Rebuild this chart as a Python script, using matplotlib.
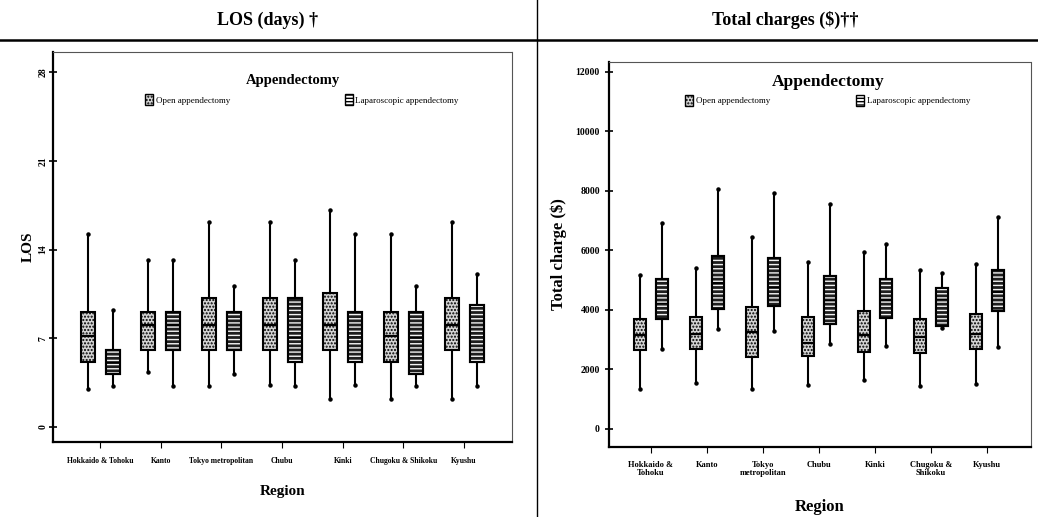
import matplotlib
matplotlib.use("Agg")
import matplotlib.pyplot as plt
from matplotlib.patches import Patch, PathPatch
from matplotlib.lines import Line2D

plt.rcParams['font.family'] = ['Liberation Serif', 'DejaVu Serif']
plt.rcParams['hatch.linewidth'] = 1.0

regions_left = ["Hokkaido & Tohoku", "Kanto", "Tokyo metropolitan", "Chubu",
                "Kinki", "Chugoku & Shikoku", "Kyushu"]
regions_right = ["Hokkaido &\nTohoku", "Kanto", "Tokyo\nmetropolitan", "Chubu",
                 "Kinki", "Chugoku &\nShikoku", "Kyushu"]

# LOS (days): whisker low, Q1, median, Q3, whisker high
los_open_lo = [3, 4.3, 3.2, 3.3, 2.2, 2.2, 2.2]
los_open_q1 = [5.1, 6.1, 6.1, 6.1, 6.1, 5.1, 6.1]
los_open_med = [7.2, 8, 8, 8, 8, 7.2, 8]
los_open_q3 = [9.1, 9.1, 10.2, 10.2, 10.6, 9.1, 10.2]
los_open_hi = [15.2, 13.2, 16.2, 16.2, 17.1, 15.2, 16.2]

los_lap_lo = [3.2, 3.2, 4.2, 3.2, 3.3, 3.2, 3.2]
los_lap_q1 = [4.2, 6.1, 6.1, 5.1, 5.1, 4.2, 5.1]
los_lap_med = [5.0, 8, 7.9, 7.0, 7.2, 7.0, 7.2]
los_lap_q3 = [6.1, 9.1, 9.1, 10.2, 9.1, 9.1, 9.6]
los_lap_hi = [9.2, 13.2, 11.1, 13.2, 15.2, 11.1, 12.1]

# Total charge ($)
tc_open_lo = [1350, 1540, 1350, 1480, 1650, 1450, 1500]
tc_open_q1 = [2660, 2690, 2430, 2470, 2600, 2570, 2680]
tc_open_med = [3160, 3190, 3250, 2900, 3170, 3100, 3180]
tc_open_q3 = [3700, 3750, 4090, 3780, 3970, 3700, 3850]
tc_open_hi = [5180, 5400, 6470, 5600, 5960, 5350, 5540]

tc_lap_lo = [2690, 3350, 3290, 2860, 2800, 3380, 2750]
tc_lap_q1 = [3690, 4020, 4150, 3530, 3720, 3470, 3980]
tc_lap_med = [4220, 4900, 4780, 4300, 4340, 4360, 4620]
tc_lap_q3 = [5040, 5820, 5740, 5140, 5030, 4750, 5350]
tc_lap_hi = [6910, 8070, 7940, 7550, 6220, 5230, 7140]

los_ticks = [0, 7, 14, 21, 28]
tc_ticks = [0, 2000, 4000, 6000, 8000, 10000, 12000]
series_names = ["Open appendectomy", "Laparoscopic appendectomy"]

fig = plt.figure(figsize=(10.38, 5.17), dpi=100)

def stats(lo, q1, med, q3, hi):
    return [dict(whislo=a, q1=b, med=c, q3=d, whishi=e, fliers=[])
            for a, b, c, d, e in zip(lo, q1, med, q3, hi)]

open_style = dict(facecolor='#d4d4d4', edgecolor='black', hatch='.....', linewidth=1.5)
lap_style = dict(facecolor='#1e1e1e', edgecolor='black', linewidth=1.5)

def draw_panel(ax, so, sl, offset, width):
    n = len(so)
    pos = list(range(1, n + 1))
    for st, style, off, striped in ((so, open_style, -offset, False),
                                    (sl, lap_style, offset, True)):
        p = [x + off for x in pos]
        bp = ax.bxp(st, positions=p, widths=width, showcaps=False, showfliers=False,
                    patch_artist=True, boxprops=style,
                    whiskerprops=dict(color='black', linewidth=1.5),
                    medianprops=dict(color='black', linewidth=1.6))
        if striped:
            for b in bp['boxes']:
                path = b.get_path()
                tr = b.get_transform()
                ax.add_patch(PathPatch(path, transform=tr, facecolor='none',
                                       edgecolor='#f2f2f2', hatch='----', linewidth=0,
                                       zorder=b.get_zorder() + 0.1))
                ax.add_patch(PathPatch(path, transform=tr, facecolor='none',
                                       edgecolor='black', linewidth=1.5,
                                       zorder=b.get_zorder() + 0.2))
        ax.plot(p, [s['whislo'] for s in st], 'o', color='black', ms=2.2)
        ax.plot(p, [s['whishi'] for s in st], 'o', color='black', ms=2.2)
    for side in ('left', 'bottom'):
        ax.spines[side].set_linewidth(1.6)
    for side in ('top', 'right'):
        ax.spines[side].set_linewidth(0.8)
        ax.spines[side].set_linestyle((0, (1, 1)))
        ax.spines[side].set_color('#555555')
    ax.tick_params(axis='y', direction='inout', length=6, width=1.2)
    ax.tick_params(axis='x', direction='out', length=4, width=0.8)

def add_legend(ax, x_open, x_lap, y):
    h1 = Patch(facecolor='#d4d4d4', edgecolor='black', hatch='.....', linewidth=1.0)
    h2 = Patch(facecolor='white', edgecolor='black', hatch='-----', linewidth=1.0)
    l1 = ax.legend([h1], [series_names[0]], loc='center left', bbox_to_anchor=(x_open, y),
                   frameon=False, fontsize=6.5, handlelength=0.9, handleheight=1.5,
                   handletextpad=0.3, borderpad=0, borderaxespad=0)
    ax.add_artist(l1)
    ax.legend([h2], [series_names[1]], loc='center left', bbox_to_anchor=(x_lap, y),
              frameon=False, fontsize=6.5, handlelength=0.9, handleheight=1.5,
              handletextpad=0.3, borderpad=0, borderaxespad=0)

# Left panel
ax1 = fig.add_axes([0.0511, 0.1451, 0.4422, 0.7544])
draw_panel(ax1, stats(los_open_lo, los_open_q1, los_open_med, los_open_q3, los_open_hi),
           stats(los_lap_lo, los_lap_q1, los_lap_med, los_lap_q3, los_lap_hi), 0.206, 0.23)
ax1.set_xlim(0.225, 7.79)
ax1.set_ylim(-1.2, 29.6)
ax1.set_yticks(los_ticks)
ax1.set_yticklabels([str(t) for t in los_ticks], rotation=90, va='center',
                    fontsize=7, fontweight='bold')
ax1.tick_params(axis='y', pad=1)
ax1.set_xticks(range(1, 8))
ax1.set_xticklabels(regions_left, fontsize=5.5, fontweight='bold')
ax1.tick_params(axis='x', pad=7)
ax1.set_ylabel("LOS", fontsize=11, fontweight='bold', labelpad=3)
ax1.set_xlabel("Region", fontsize=11, fontweight='bold', labelpad=14)
ax1.text(0.523, 0.928, "Appendectomy", transform=ax1.transAxes, ha='center', va='center',
         fontsize=10.5, fontweight='bold')
add_legend(ax1, 0.20, 0.635, 0.877)

# Right panel
ax2 = fig.add_axes([0.5867, 0.1354, 0.4066, 0.7447])
draw_panel(ax2, stats(tc_open_lo, tc_open_q1, tc_open_med, tc_open_q3, tc_open_hi),
           stats(tc_lap_lo, tc_lap_q1, tc_lap_med, tc_lap_q3, tc_lap_hi), 0.196, 0.225)
ax2.set_xlim(0.25, 7.786)
ax2.set_ylim(-605, 12336)
ax2.set_yticks(tc_ticks)
ax2.set_yticklabels([str(t) for t in tc_ticks], fontsize=7, fontweight='bold')
ax2.set_xticks(range(1, 8))
ax2.set_xticklabels(regions_right, fontsize=6, fontweight='bold', linespacing=0.95)
ax2.tick_params(axis='x', pad=6)
ax2.set_ylabel("Total charge ($)", fontsize=12, fontweight='bold', labelpad=6)
ax2.set_xlabel("Region", fontsize=12, fontweight='bold', labelpad=16)
ax2.text(0.519, 0.948, "Appendectomy", transform=ax2.transAxes, ha='center', va='center',
         fontsize=12.5, fontweight='bold')
add_legend(ax2, 0.18, 0.585, 0.901)

# Header
fig.text(268 / 1038, 1 - 20 / 517, "LOS (days) \u2020", ha='center', va='center',
         fontsize=13, fontweight='bold')
fig.text(785 / 1038, 1 - 20 / 517, "Total charges ($)\u2020\u2020", ha='center', va='center',
         fontsize=13, fontweight='bold')
fig.add_artist(Line2D([0, 1], [1 - 40 / 517, 1 - 40 / 517], transform=fig.transFigure,
                      color='black', linewidth=1.8))
fig.add_artist(Line2D([537 / 1038, 537 / 1038], [0, 1], transform=fig.transFigure,
                      color='black', linewidth=1.0))

fig.savefig("out.png", dpi=100)
